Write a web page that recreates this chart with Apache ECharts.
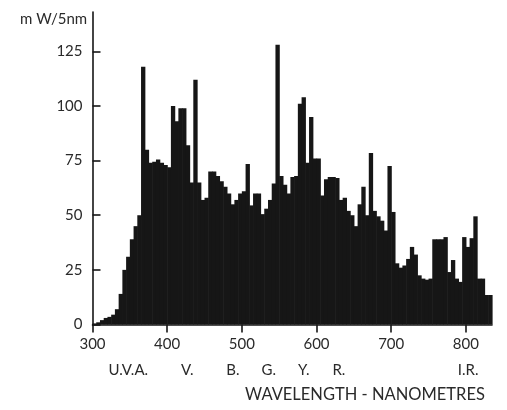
<!DOCTYPE html>
<html>
<head>
<meta charset="utf-8">
<script src="https://cdn.jsdelivr.net/npm/echarts@6/dist/echarts.min.js"></script>
<style>
  html, body { margin: 0; padding: 0; background: #fff; }
  #spd { width: 507px; height: 410px; }
</style>
</head>
<body>
<div id="spd"></div>
<script>
// bin start wavelength (nm), 5 nm steps
const wavelengths = [
  300, 305, 310, 315, 320, 325, 330, 335, 340, 345, 350, 355, 360, 365, 370, 375, 380, 385, 390, 395,
  400, 405, 410, 415, 420, 425, 430, 435, 440, 445, 450, 455, 460, 465, 470, 475, 480, 485, 490, 495,
  500, 505, 510, 515, 520, 525, 530, 535, 540, 545, 550, 555, 560, 565, 570, 575, 580, 585, 590, 595,
  600, 605, 610, 615, 620, 625, 630, 635, 640, 645, 650, 655, 660, 665, 670, 675, 680, 685, 690, 695,
  700, 705, 710, 715, 720, 725, 730, 735, 740, 745, 750, 755, 760, 765, 770, 775, 780, 785, 790, 795,
  800, 805, 810, 815, 820, 825, 830
];

// mW per 5nm
const power = [
  0.5, 1, 2, 3, 3.5, 4.5, 7, 14, 25, 31, 39, 45, 50, 118, 80, 74, 74.5, 75.5, 74, 73,
  72, 100, 93, 99, 99, 82, 65, 112, 65, 57, 58, 70, 70, 68, 65.5, 63, 60, 55, 57, 60,
  61, 73.5, 54.5, 60, 60, 50.5, 53, 57, 64.5, 128, 68, 64, 60, 67.5, 68, 101, 104, 74, 95, 76,
  76, 59, 66.5, 67.5, 67.5, 67, 57, 58, 52, 50, 45, 55, 63, 50, 78.5, 52, 49.5, 47.5, 43, 72.5,
  51.5, 28, 26, 27, 30, 35.5, 32, 22.5, 21, 20.5, 21, 39, 39, 39, 40, 24, 29.5, 21, 19.5, 40,
  35.5, 39.5, 49.5, 21, 21, 13.5, 13.5
];

const binWidth = 5;
const xTicks = [300, 400, 500, 600, 700, 800];
const yTicks = [0, 25, 50, 75, 100, 125];

// colour band names and where they sit along the wavelength axis
const bandNames = ["U.V.A.", "V.", "B.", "G.", "Y.", "R.", "I.R."];
const bandPos = [348, 427, 488, 536, 583, 630, 803];

const font = "Lato, 'Open Sans', sans-serif";
const ink = "#161616";
const textInk = "#2a2a2a";

const chart = echarts.init(document.getElementById("spd"), null, { renderer: "canvas" });

// one filled rectangle per 5 nm bin, spanning [start, start + 5]
function renderBin(params, api) {
  const start = api.value(0);
  const top = api.coord([start, api.value(1)]);
  const bottom = api.coord([start + binWidth, 0]);
  return {
    type: "rect",
    shape: {
      x: top[0],
      y: top[1],
      width: bottom[0] - top[0] + 0.6, // small overlap so no seams show
      height: bottom[1] - top[1],
    },
    style: { fill: ink },
  };
}

const option = {
  backgroundColor: "#fff",
  animation: false,
  title: {
    text: "m W/5nm",
    left: 15,
    top: 7,
    textStyle: { fontFamily: font, fontSize: 15, fontWeight: "normal", color: textInk },
  },
  grid: {
    left: 92.5,
    right: 15,
    top: 12,
    bottom: 85.5,
    outerBoundsMode: "none",
  },
  xAxis: [
    {
      type: "value",
      min: 300,
      max: 835,
      axisLine: { lineStyle: { color: ink, width: 1.6 } },
      axisTick: { customValues: xTicks, length: 8, lineStyle: { color: ink, width: 1.6 } },
      axisLabel: {
        customValues: xTicks,
        margin: 12,
        fontFamily: font,
        fontSize: 15,
        color: textInk,
      },
      splitLine: { show: false },
    },
    {
      type: "value",
      position: "bottom",
      min: 300,
      max: 835,
      axisLine: { show: false },
      axisTick: { show: false },
      axisLabel: {
        customValues: bandPos,
        margin: 38,
        fontFamily: font,
        fontSize: 15,
        color: textInk,
        formatter: (v) => bandNames[bandPos.indexOf(v)],
      },
      splitLine: { show: false },
    },
  ],
  yAxis: {
    type: "value",
    min: 0,
    max: 143,
    axisLine: { show: true, lineStyle: { color: ink, width: 1.6 } },
    axisTick: { show: true, inside: true, length: 8, customValues: yTicks, lineStyle: { color: ink, width: 1.6 } },
    axisLabel: {
      customValues: yTicks,
      margin: 10,
      fontFamily: font,
      fontSize: 15,
      color: textInk,
    },
    splitLine: { show: false },
  },
  graphic: [
    {
      type: "text",
      left: 245,
      top: 386,
      style: {
        text: "WAVELENGTH - NANOMETRES",
        font: "16.5px " + font,
        fill: textInk,
      },
    },
  ],
  series: [
    {
      type: "custom",
      xAxisIndex: 0,
      renderItem: renderBin,
      encode: { x: 0, y: 1 },
      data: wavelengths.map((w, i) => [w, power[i]]),
      emphasis: { disabled: true },
    },
  ],
};

chart.setOption(option);
</script>
</body>
</html>
